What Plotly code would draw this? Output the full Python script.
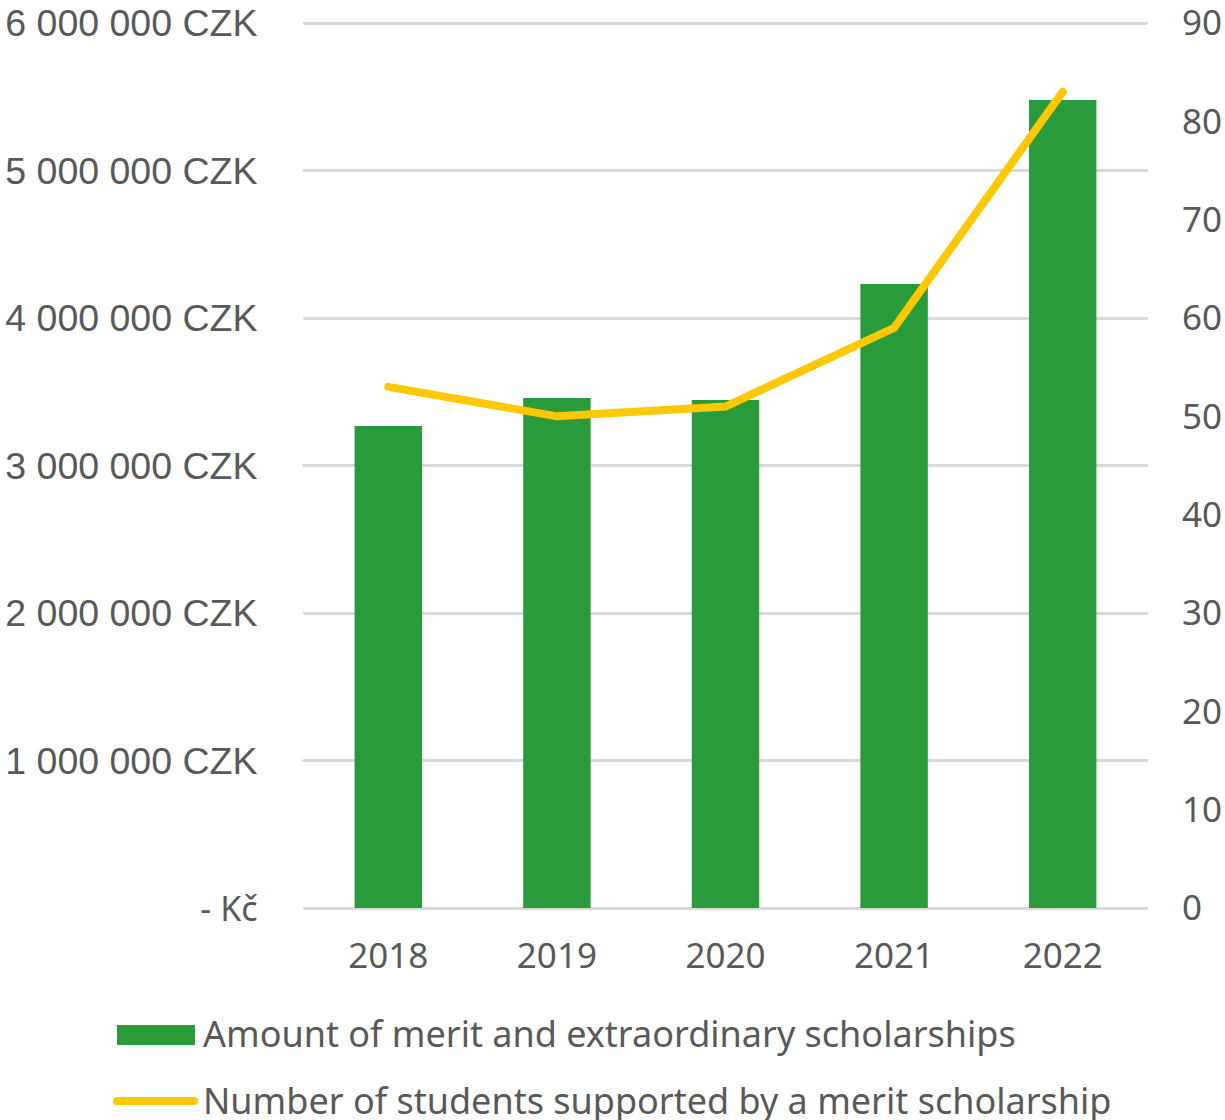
import plotly.graph_objects as go

years = ["2018", "2019", "2020", "2021", "2022"]
amounts = [3268000, 3458000, 3444000, 4230000, 5478000]
students = [53, 50, 51, 59, 83]
left_tickvals = [0, 1000000, 2000000, 3000000, 4000000, 5000000, 6000000]
left_ticktext = ["- Kč", "1 000 000 CZK", "2 000 000 CZK", "3 000 000 CZK",
                 "4 000 000 CZK", "5 000 000 CZK", "6 000 000 CZK"]
right_tickvals = [0, 10, 20, 30, 40, 50, 60, 70, 80, 90]
bar_name = "Amount of merit and extraordinary scholarships"
line_name = "Number of students supported by a merit scholarship"

GREEN = "#2a9b3a"
YELLOW = "#ffc800"
TEXT = "#595959"
GRID = "#d9d9d9"
FONT = "Noto Sans"
LFONT = "Liberation Sans"

left_labels = [
    f'<span style="font-family:{FONT};font-size:34px">{t}</span>' if v == 0 else t
    for v, t in zip(left_tickvals, left_ticktext)
]

# plot geometry (pixels): value span from y=23 (top) to y=908 (zero)
W, H = 1225, 1120
X0, X1 = 304, 1147
Y_TOP, Y_ZERO = 23, 908
PAD = 3  # small padding so the end gridlines are not clipped
span_px = Y_ZERO - Y_TOP
lmax, rmax = max(left_tickvals), max(right_tickvals)
eps_l = PAD * lmax / span_px
eps_r = PAD * rmax / span_px

fig = go.Figure()
fig.add_trace(go.Bar(x=years, y=amounts, name=bar_name, marker_color=GREEN,
                     marker_line_width=0, width=0.4, yaxis="y", showlegend=False))
fig.add_trace(go.Scatter(x=years, y=students, name=line_name, mode="lines",
                         line=dict(color=YELLOW, width=8), yaxis="y2", showlegend=False))

fig.update_layout(
    width=W, height=H,
    margin=dict(l=X0, r=W - X1, t=Y_TOP - PAD, b=H - Y_ZERO - PAD, autoexpand=False),
    paper_bgcolor="white", plot_bgcolor="white",
    font=dict(family=FONT, size=35, color=TEXT),
    xaxis=dict(type="category", range=[-0.5, 4.5], showgrid=False, showline=False,
               ticks="outside", ticklen=14, tickcolor="rgba(0,0,0,0)", automargin=False,
               tickfont=dict(family=FONT, size=35, color=TEXT), zeroline=False),
    yaxis=dict(range=[-eps_l, lmax + eps_l], tickvals=left_tickvals, ticktext=left_labels,
               showgrid=True, gridcolor=GRID, gridwidth=2.5, zeroline=False, automargin=False,
               showline=False, ticks="outside", ticklen=38, tickcolor="rgba(0,0,0,0)",
               ticklabeloverflow="allow",
               tickfont=dict(family=LFONT, size=37.5, color=TEXT)),
    yaxis2=dict(range=[-eps_r, rmax + eps_r], tickvals=right_tickvals, overlaying="y", side="right",
                showgrid=False, zeroline=False, showline=False, ticks="outside", automargin=False,
                ticklen=27, tickcolor="rgba(0,0,0,0)", ticklabeloverflow="allow",
                tickfont=dict(family=FONT, size=35, color=TEXT)),
)

# custom legend below the plot (paper coordinates)
PW = X1 - X0
PH = span_px + 2 * PAD
def px(x):
    return (x - X0) / PW
def py(y):
    return (Y_ZERO + PAD - y) / PH

fig.add_shape(type="rect", xref="paper", yref="paper",
              x0=px(117), x1=px(195), y0=py(1045), y1=py(1025),
              fillcolor=GREEN, line_width=0)
fig.add_shape(type="line", xref="paper", yref="paper",
              x0=px(117), x1=px(194), y0=py(1101), y1=py(1101),
              line=dict(color=YELLOW, width=8))
fig.add_annotation(text=bar_name, xref="paper", yref="paper",
                   x=px(201), y=py(1033), xanchor="left", yanchor="middle",
                   showarrow=False, font=dict(family=FONT, size=36, color=TEXT))
fig.add_annotation(text=line_name, xref="paper", yref="paper",
                   x=px(201), y=py(1100), xanchor="left", yanchor="middle",
                   showarrow=False, font=dict(family=FONT, size=36, color=TEXT))

post = """
document.body.style.margin='0px';
document.querySelectorAll('path').forEach(function(p){p.style.strokeLinecap='round';});
"""
fig.write_html("out.html", post_script=post, config={"displayModeBar": False})
